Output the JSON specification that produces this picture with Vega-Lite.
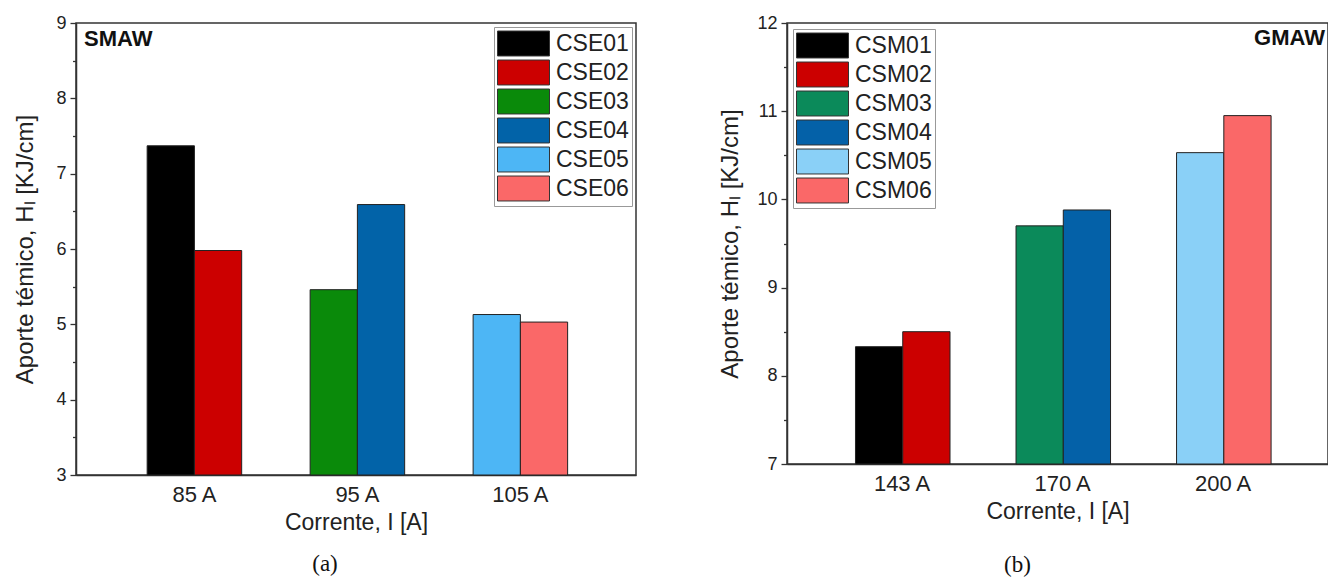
{
  "$schema": "https://vega.github.io/schema/vega-lite/v6.json",
  "padding": {"left": 13, "top": 13, "right": 0, "bottom": 0},
  "background": "white",
  "spacing": 81,
  "config": {
    "font": "Liberation Sans",
    "view": {"stroke": "#333", "strokeWidth": 1.5},
    "axis": {"domainColor": "#333", "domainWidth": 1.5, "tickColor": "#333", "tickWidth": 1.3, "labelColor": "#222", "titleColor": "#222", "grid": false, "labelFont": "Liberation Sans", "titleFont": "Liberation Sans", "titleFontWeight": "normal"},
    "legend": {"title": null, "symbolType": "M-1,-0.96H3V0.96H-1Z", "symbolSize": 676, "symbolStrokeColor": "#333", "symbolStrokeWidth": 1, "symbolOpacity": 1, "labelFontSize": 23, "labelOffset": 32, "padding": 3, "rowPadding": 0, "strokeColor": "#999", "fillColor": "white", "labelColor": "#222", "labelFont": "Liberation Sans", "labelLimit": 200}
  },
  "datasets": {
    "smaw": [
      {"current": "85 A", "sample": "CSE01", "value": 7.37},
      {"current": "85 A", "sample": "CSE02", "value": 5.98},
      {"current": "95 A", "sample": "CSE03", "value": 5.46},
      {"current": "95 A", "sample": "CSE04", "value": 6.59},
      {"current": "105 A", "sample": "CSE05", "value": 5.13},
      {"current": "105 A", "sample": "CSE06", "value": 5.03}
    ],
    "gmaw": [
      {"current": "143 A", "sample": "CSM01", "value": 8.33},
      {"current": "143 A", "sample": "CSM02", "value": 8.50},
      {"current": "170 A", "sample": "CSM03", "value": 9.70},
      {"current": "170 A", "sample": "CSM04", "value": 9.88},
      {"current": "200 A", "sample": "CSM05", "value": 10.53},
      {"current": "200 A", "sample": "CSM06", "value": 10.95}
    ]
  },
  "hconcat": [
    {
      "title": {"text": "(a)", "orient": "bottom", "font": "Liberation Serif", "fontSize": 23, "fontWeight": "normal", "color": "#111", "offset": 18, "anchor": "middle"},
      "resolve": {"scale": {"color": "independent"}, "legend": {"color": "independent"}},
      "vconcat": [
        {
          "data": {"name": "smaw"},
          "width": 560,
          "height": 452,
          "title": {"text": "SMAW", "anchor": "start", "orient": "top", "offset": 0, "dy": 54, "dx": 8, "fontSize": 22, "fontWeight": "bold", "baseline": "alphabetic", "color": "#111", "font": "Liberation Sans", "frame": "group"},
          "transform": [{"window": [{"op": "row_number", "as": "slot"}], "groupby": ["current"]}],
          "mark": {"type": "bar", "stroke": "#222", "strokeWidth": 1},
          "encoding": {
            "x": {"field": "current", "type": "nominal", "sort": null,
                  "scale": {"paddingInner": 0.42, "paddingOuter": 0.428, "align": 0.51},
                  "axis": {"title": "Corrente, I [A]", "labelAngle": 0, "ticks": false, "tickSize": 0, "labelFontSize": 22, "labelPadding": 9, "titleFontSize": 23, "titlePadding": 6}},
            "xOffset": {"field": "slot", "type": "nominal", "scale": {"paddingInner": 0, "paddingOuter": 0}},
            "y": {"field": "value", "type": "quantitative",
                  "scale": {"domain": [3, 9], "nice": false, "zero": false},
                  "axis": {"title": "Aporte témico, Hₗ [KJ/cm]", "values": [3, 3.5, 4, 4.5, 5, 5.5, 6, 6.5, 7, 7.5, 8, 8.5, 9],
                           "labelExpr": "datum.value % 1 === 0 ? format(datum.value, 'd') : ''",
                           "tickSize": {"condition": {"test": "datum.value % 1 !== 0", "value": 3.5}, "value": 6},
                           "labelFontSize": 18, "labelPadding": 4, "titleFontSize": 24, "titlePadding": 18}},
            "y2": {"datum": 3},
            "color": {"field": "sample", "type": "nominal",
                      "scale": {"domain": ["CSE01", "CSE02", "CSE03", "CSE04", "CSE05", "CSE06"], "range": ["#000000", "#cc0000", "#0a8a0a", "#0263a8", "#4db6f5", "#fa6868"]},
                      "legend": {"orient": "top-right", "offset": 4}}
          }
        }
      ]
    },
    {
      "title": {"text": "(b)", "orient": "bottom", "font": "Liberation Serif", "fontSize": 23, "fontWeight": "normal", "color": "#111", "offset": 30, "anchor": "middle", "dx": -6},
      "resolve": {"scale": {"color": "independent"}, "legend": {"color": "independent"}},
      "vconcat": [
        {
          "data": {"name": "gmaw"},
          "width": 541,
          "height": 441,
          "title": {"text": "GMAW", "anchor": "end", "orient": "top", "offset": 0, "dy": 53, "dx": -3, "fontSize": 22, "fontWeight": "bold", "baseline": "alphabetic", "color": "#111", "font": "Liberation Sans", "frame": "group"},
          "transform": [{"window": [{"op": "row_number", "as": "slot"}], "groupby": ["current"]}],
          "mark": {"type": "bar", "stroke": "#222", "strokeWidth": 1},
          "encoding": {
            "x": {"field": "current", "type": "nominal", "sort": null,
                  "scale": {"paddingInner": 0.42, "paddingOuter": 0.395, "align": 0.54},
                  "axis": {"title": "Corrente, I [A]", "labelAngle": 0, "ticks": false, "tickSize": 0, "labelFontSize": 22, "labelPadding": 9, "titleFontSize": 23, "titlePadding": 6}},
            "xOffset": {"field": "slot", "type": "nominal", "scale": {"paddingInner": 0, "paddingOuter": 0}},
            "y": {"field": "value", "type": "quantitative",
                  "scale": {"domain": [7, 12], "nice": false, "zero": false},
                  "axis": {"title": "Aporte témico, Hₗ [KJ/cm]", "values": [7, 7.5, 8, 8.5, 9, 9.5, 10, 10.5, 11, 11.5, 12],
                           "labelExpr": "datum.value % 1 === 0 ? format(datum.value, 'd') : ''",
                           "tickSize": {"condition": {"test": "datum.value % 1 !== 0", "value": 3.5}, "value": 6},
                           "labelFontSize": 18, "labelPadding": 4, "titleFontSize": 24, "titlePadding": 14}},
            "y2": {"datum": 7},
            "color": {"field": "sample", "type": "nominal",
                      "scale": {"domain": ["CSM01", "CSM02", "CSM03", "CSM04", "CSM05", "CSM06"], "range": ["#000000", "#cc0000", "#0b8a5a", "#0461a8", "#8ad0f7", "#fa6868"]},
                      "legend": {"orient": "top-left", "offset": 6}}
          }
        }
      ]
    }
  ],
  "resolve": {"scale": {"color": "independent"}, "legend": {"color": "independent"}}
}
